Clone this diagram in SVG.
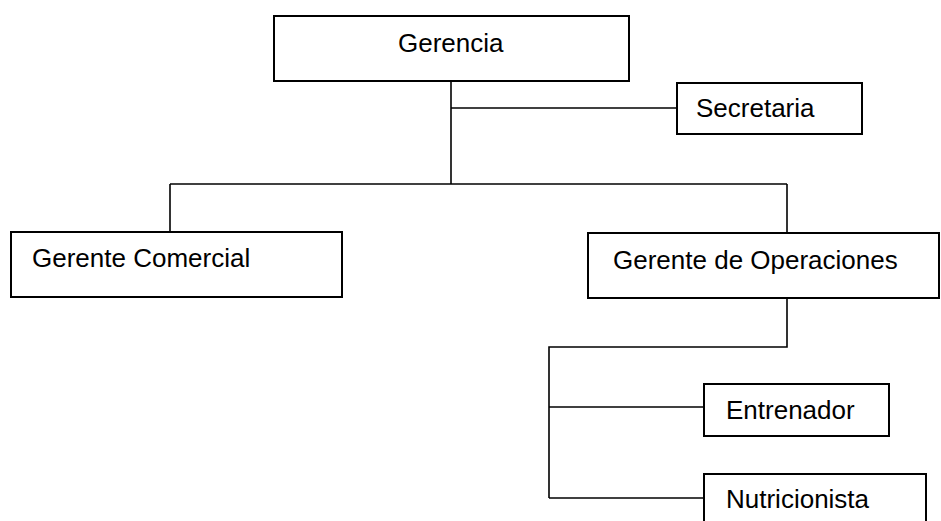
<svg xmlns="http://www.w3.org/2000/svg" width="941" height="521" viewBox="0 0 941 521">
<style>
.box{fill:#fff;stroke:#000;stroke-width:2}
.ln{fill:none;stroke:#000;stroke-width:1.6}
text{font-family:"Liberation Sans",Arial,sans-serif;font-size:26px;fill:#000}
</style>
<rect width="941" height="521" fill="#fff"/>
<g id="connectors">
<path class="ln" d="M451,81 V184"/>
<path class="ln" d="M451,108 H677"/>
<path class="ln" d="M170,184 H787"/>
<path class="ln" d="M170,184 V232"/>
<path class="ln" d="M787,184 V233"/>
<path class="ln" d="M787,298 V347 H549 V498"/>
<path class="ln" d="M549,407 H705"/>
<path class="ln" d="M549,498 H705"/>
</g>
<g id="gerencia">
<rect class="box" x="274" y="16" width="355" height="65"/>
<text x="398" y="52">Gerencia</text>
</g>
<g id="secretaria">
<rect class="box" x="677" y="83" width="185" height="51"/>
<text x="696" y="117">Secretaria</text>
</g>
<g id="gerente-comercial">
<rect class="box" x="11" y="232" width="331" height="65"/>
<text x="32" y="267">Gerente Comercial</text>
</g>
<g id="gerente-operaciones">
<rect class="box" x="588" y="233" width="351" height="65"/>
<text x="613" y="269">Gerente de Operaciones</text>
</g>
<g id="entrenador">
<rect class="box" x="704" y="384" width="185" height="52"/>
<text x="726" y="419">Entrenador</text>
</g>
<g id="nutricionista">
<rect class="box" x="704" y="474" width="222" height="60"/>
<text x="726" y="508">Nutricionista</text>
</g>
</svg>
